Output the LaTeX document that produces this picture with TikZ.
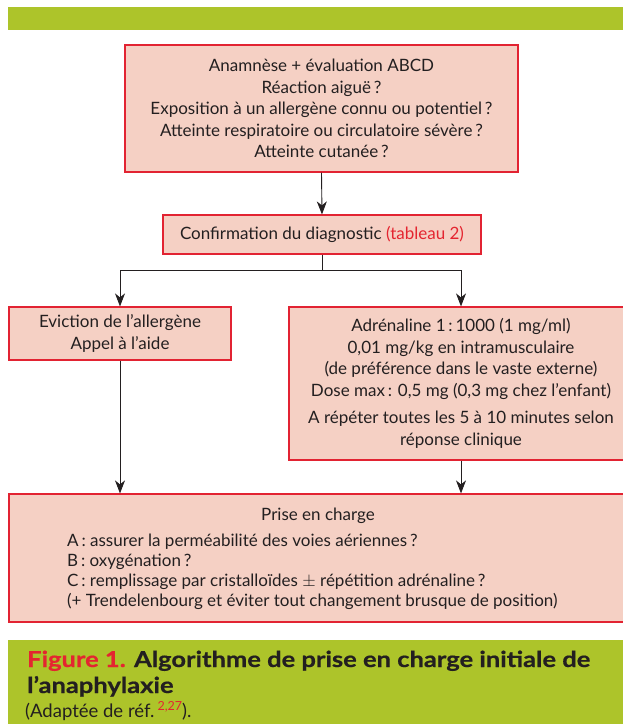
\documentclass[tikz,border=0pt]{standalone}
\usepackage{fontspec}
\setmainfont{Lato}
\usetikzlibrary{arrows.meta}
\definecolor{boxfill}{RGB}{245,208,196}
\definecolor{boxline}{RGB}{226,35,50}
\definecolor{band}{RGB}{173,196,42}
\definecolor{ink}{RGB}{35,31,32}
\definecolor{capred}{RGB}{228,37,48}
\begin{document}
\begin{tikzpicture}[x=1pt,y=-1pt,
  box/.style={draw=boxline, fill=boxfill, line width=1.2pt, inner sep=0pt, text=ink, align=center, font=\fontsize{17}{21.5}\selectfont},
  txt/.style={inner sep=0pt, text=ink, font=\fontsize{17}{20}\selectfont},
  conn/.style={draw=ink, line width=0.9pt},
  arr/.style={conn, -{Stealth[length=13pt,width=10pt,inset=4pt]}},
  captxt/.style={anchor=base west, inner sep=0pt, text=ink, font=\fontsize{22}{27}\bfseries\selectfont\addfontfeature{FakeStretch=1.16,FakeBold=0.6}}]
\useasboundingbox (0,0) rectangle (623,724);
\fill[white] (0,0) rectangle (623,724);
\fill[band] (8,7) rectangle (623,30);
\fill[band] (8,640) rectangle (623,724);

\node[box, minimum width=393pt, minimum height=127pt] (top) at (321.5,108.5)
  {Anamnèse + évaluation ABCD\\Réaction aiguë\,?\\Exposition à un allergène connu ou potentiel\,?\\Atteinte respiratoire ou circulatoire sévère\,?\\Atteinte cutanée\,?};
\node[box, minimum width=318pt, minimum height=39pt] (conf) at (322,234.5)
  {Confirmation du diagnostic \textcolor{capred}{(tableau 2)}};
\node[box, minimum width=222pt, minimum height=53pt] (left) at (120,333.5)
  {Eviction de l’allergène\\Appel à l’aide};
\node[box, minimum width=344pt, minimum height=153pt] (right) at (461,383.5)
  {Adrénaline 1\,:\,1000 (1 mg/ml)\\0,01 mg/kg en intramusculaire\\(de préférence dans le vaste externe)\\Dose max\,: 0,5 mg (0,3 mg chez l’enfant)\\[6pt]A répéter toutes les 5 à 10 minutes selon\\réponse clinique};
\node[box, minimum width=618pt, minimum height=128pt] (pec) at (318,558) {};
\node[txt] (pectitle) at (318,516) {Prise en charge};
\node[txt, anchor=west, align=left] (pecitems) at (67,572)
  {A\,: assurer la perméabilité des voies aériennes\,?\\B\,: oxygénation\,?\\C\,: remplissage par cristalloïdes $\pm$ répétition adrénaline\,?\\(+ Trendelenbourg et éviter tout changement brusque de position)};

\coordinate (jm) at (322,270);
\draw[arr] (top.south) -- (conf.north);
\draw[conn] (conf.south) -- (jm);
\draw[arr] (jm) -| (left.north);
\draw[arr] (jm) -| (right.north);
\draw[arr] (left.south) -- (left.south |- pec.north);
\draw[arr] (right.south) -- (right.south |- pec.north);

\node[captxt] (cap1) at (27,667)
  {\textcolor{capred}{Figure 1.} Algorithme de prise en charge initiale de};
\node[captxt] (cap2) at (27,693)
  {l’anaphylaxie};
\node[anchor=base west, inner sep=0pt, text=ink, font=\fontsize{18.5}{20}\selectfont] (cap3) at (25,717)
  {(Adaptée de réf.\,\raisebox{6.5pt}{\fontsize{12.5}{12.5}\selectfont\textcolor{capred}{2,27}}).};
\end{tikzpicture}
\end{document}
